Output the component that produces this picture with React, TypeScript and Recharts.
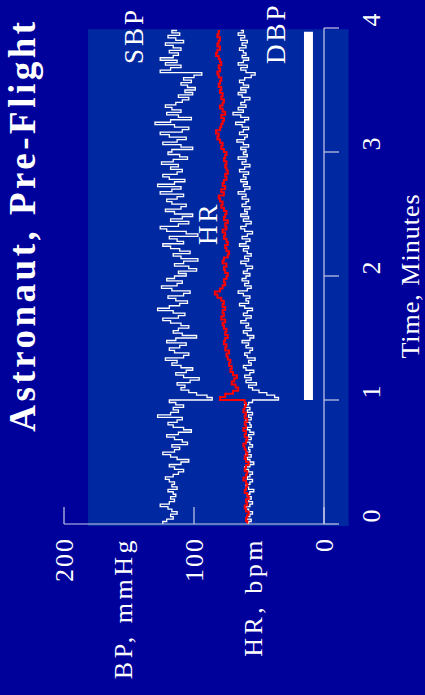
import React from "react";
import {
  LineChart,
  Line,
  XAxis,
  YAxis,
  ReferenceArea,
  ReferenceDot,
} from "recharts";

// beat-to-beat pressures, one entry every BP_STEP minutes
const BP_STEP = 0.02;
const HR_STEP = 0.025;

const sbpValues = [
  124, 121, 116, 118, 113, 117, 120, 126, 119, 115,
  118, 114, 116, 120, 113, 117, 115, 119, 122, 116,
  112, 108, 115, 119, 110, 104, 113, 118, 124, 115,
  111, 117, 105, 109, 115, 121, 112, 102, 108, 116,
  120, 113, 109, 128, 118, 112, 116, 108, 114, 119,
  86, 90, 98, 104, 110, 107, 113, 103, 96, 108,
  114, 106, 101, 110, 117, 113, 122, 108, 104, 115,
  119, 111, 106, 121, 114, 98, 109, 116, 112, 104,
  110, 118, 124, 112, 107, 116, 128, 119, 111, 105,
  114, 120, 108, 103, 117, 125, 113, 109, 121, 115,
  106, 112, 98, 104, 115, 108, 97, 110, 116, 103,
  111, 118, 124, 108, 113, 119, 97, 106, 121, 126,
  112, 104, 118, 109, 101, 115, 122, 110, 106, 117,
  121, 113, 108, 126, 117, 110, 128, 115, 107, 119,
  124, 113, 109, 118, 112, 125, 116, 105, 111, 120,
  117, 101, 110, 124, 113, 106, 119, 126, 109, 104,
  115, 130, 118, 102, 112, 121, 110, 117, 122, 114,
  109, 104, 112, 101, 107, 99, 105, 110, 102, 108,
  100, 94, 126, 118, 110, 122, 113, 126, 116, 112,
  119, 110, 116, 122, 108, 114, 120, 111, 117, 113,
];

const dbpValues = [
  58, 56, 59, 57, 55, 58, 60, 57, 55, 58,
  56, 59, 57, 54, 58, 60, 57, 55, 59, 57,
  55, 58, 61, 57, 54, 57, 59, 56, 60, 57,
  58, 55, 57, 60, 56, 58, 54, 57, 59, 56,
  57, 60, 56, 58, 55, 59, 57, 61, 58, 55,
  35, 38, 44, 50, 55, 58, 52, 60, 56, 61,
  57, 54, 60, 62, 56, 58, 53, 59, 61, 57,
  55, 60, 58, 63, 57, 54, 59, 62, 56, 60,
  58, 64, 60, 56, 62, 59, 55, 61, 65, 58,
  60, 57, 62, 66, 59, 56, 61, 58, 63, 60,
  57, 62, 59, 55, 60, 64, 58, 61, 56, 59,
  62, 58, 65, 60, 57, 63, 59, 55, 61, 64,
  60, 56, 62, 58, 64, 59, 61, 57, 63, 60,
  58, 63, 60, 66, 61, 57, 62, 59, 64, 60,
  62, 58, 65, 61, 57, 63, 60, 66, 59, 62,
  60, 64, 58, 62, 67, 61, 59, 65, 62, 58,
  63, 68, 61, 58, 64, 70, 62, 66, 60, 64,
  61, 57, 63, 66, 60, 64, 58, 62, 65, 61,
  56, 53, 60, 64, 59, 66, 62, 58, 63, 60,
  62, 65, 60, 63, 59, 64, 61, 66, 62, 64,
];

const hrValues = [
  59, 60, 59, 58, 60, 61, 59, 60, 58, 59,
  61, 60, 59, 60, 62, 60, 59, 61, 60, 58,
  60, 61, 59, 60, 61, 62, 60, 59, 61, 60,
  62, 60, 61, 59, 61, 60, 62, 61, 60, 61,
  80, 76, 70, 66, 68, 71, 69, 67, 70, 72,
  71, 73, 72, 74, 75, 73, 76, 75, 77, 76,
  74, 76, 75, 77, 78, 76, 79, 77, 78, 76,
  78, 77, 79, 82, 84, 80, 78, 76, 77, 75,
  74, 76, 77, 75, 78, 77, 74, 73, 75, 76,
  74, 75, 77, 76, 78, 75, 76, 74, 77, 76,
  75, 77, 79, 78, 80, 81, 77, 79, 76, 78,
  77, 75, 76, 74, 75, 76, 75, 77, 76, 75,
  77, 79, 78, 80, 82, 81, 83, 80, 79, 78,
  77, 79, 76, 78, 80, 78, 77, 79, 78, 80,
  79, 81, 80, 79, 81, 82, 80, 81, 79, 80,
  81, 83, 82, 80, 82, 81, 80, 82, 81, 80,
];

const TIME_TICKS = [0, 1, 2, 3, 4];
const PRESSURE_TICKS = [0, 100, 200];

// shaded panel behind the traces and the white standing bar
const panelBox = { t1: -0.016, t2: 3.99, y1: -19, y2: 181.5 };
const standBar = { t1: 1.0, t2: 3.97, y1: 8.5, y2: 15.4 };

const seriesTags = [
  { text: "SBP", t: 3.71, v: 139 },
  { text: "HR", t: 2.25, v: 82 },
  { text: "DBP", t: 3.71, v: 30 },
];

const BG = "#00009a";
const PANEL = "#0028a0";
const AXIS = "#c8cbe8";
const FONT = "'Liberation Serif', 'Times New Roman', serif";

const toPoints = (vals: number[], step: number) =>
  vals.map((v, i) => ({ t: +(i * step).toFixed(3), v }));

const sbp = toPoints(sbpValues, BP_STEP);
const dbp = toPoints(dbpValues, BP_STEP);
const hr = toPoints(hrValues, HR_STEP);

const W = 695;
const H = 425;

const PressureTick = (props: any) => {
  const { x, y, payload } = props;
  return (
    <g>
      <line x1={x} x2={x + 17} y1={y} y2={y} stroke={AXIS} strokeWidth={1.2} />
      <text
        x={x - 13}
        y={y + 9}
        textAnchor="end"
        fill="#fff"
        fontFamily={FONT}
        fontSize={26}
        style={{ letterSpacing: 2 }}
      >
        {payload.value}
      </text>
    </g>
  );
};

const TimeTick = (props: any) => {
  const { x, y, payload } = props;
  return (
    <text
      x={x + 8}
      y={y + 41}
      textAnchor="middle"
      fill="#fff"
      fontFamily={FONT}
      fontSize={26}
    >
      {payload.value}
    </text>
  );
};

const PressureTitle = (props: any) => {
  const { viewBox } = props;
  const right = viewBox.x + viewBox.width - 13;
  const style = { letterSpacing: 3.5 };
  return (
    <g fill="#fff" fontFamily={FONT} fontSize={26}>
      <text x={right} y={viewBox.y + 68} textAnchor="end" style={style}>
        BP, mmHg
      </text>
      <text x={right} y={viewBox.y + 198} textAnchor="end" style={style}>
        HR, bpm
      </text>
    </g>
  );
};

const TimeTitle = (props: any) => {
  const { viewBox } = props;
  return (
    <text
      x={viewBox.x + viewBox.width / 2}
      y={viewBox.y + 95}
      textAnchor="middle"
      fill="#fff"
      fontFamily={FONT}
      fontSize={26}
      style={{ letterSpacing: 1 }}
    >
      Time, Minutes
    </text>
  );
};

const tagLabel = (text: string) => (props: any) => {
  const { viewBox } = props;
  return (
    <text
      x={viewBox.x}
      y={viewBox.y}
      fill="#fff"
      fontFamily={FONT}
      fontSize={27}
      style={{ letterSpacing: 3 }}
    >
      {text}
    </text>
  );
};

export default function App() {
  return (
    <div
      style={{
        position: "fixed",
        left: 0,
        top: 0,
        width: H,
        height: W,
        background: BG,
        overflow: "hidden",
      }}
    >
      <div
        style={{
          position: "absolute",
          left: 0,
          top: 0,
          width: W,
          height: H,
          transformOrigin: "0 0",
          transform: `translateY(${W}px) rotate(-90deg)`,
        }}
      >
        <div
          style={{
            position: "absolute",
            left: 0,
            top: 4,
            width: W,
            paddingLeft: 245,
            boxSizing: "border-box",
            textAlign: "center",
            color: "#fff",
            fontFamily: FONT,
            fontWeight: "bold",
            fontSize: 37,
            lineHeight: "37px",
            letterSpacing: 3.5,
            whiteSpace: "nowrap",
          }}
        >
          Astronaut, Pre-Flight
        </div>
        <LineChart
          width={W}
          height={H}
          margin={{ top: 64, right: 28, left: 111, bottom: 41 }}
        >
          <ReferenceArea
            x1={panelBox.t1}
            x2={panelBox.t2}
            y1={panelBox.y1}
            y2={panelBox.y2}
            ifOverflow="visible"
            fill={PANEL}
            fillOpacity={1}
            stroke="none"
          />
          <XAxis
            type="number"
            dataKey="t"
            domain={[0, 4]}
            ticks={TIME_TICKS}
            interval={0}
            height={60}
            tickSize={15}
            tickMargin={0}
            axisLine={{ stroke: AXIS, strokeWidth: 1.2 }}
            tickLine={{ stroke: AXIS, strokeWidth: 1.2 }}
            tick={TimeTick}
            label={<TimeTitle />}
          />
          <YAxis
            type="number"
            domain={[0, 200]}
            ticks={PRESSURE_TICKS}
            interval={0}
            width={60}
            tickSize={0}
            tickMargin={0}
            tickLine={false}
            axisLine={{ stroke: AXIS, strokeWidth: 1.2 }}
            tick={PressureTick}
            label={<PressureTitle />}
          />
          <ReferenceArea
            x1={standBar.t1}
            x2={standBar.t2}
            y1={standBar.y1}
            y2={standBar.y2}
            fill="#ffffff"
            fillOpacity={1}
            stroke="none"
          />
          <Line
            data={sbp}
            dataKey="v"
            type="stepAfter"
            stroke="#ffffff"
            strokeWidth={1.3}
            dot={false}
            isAnimationActive={false}
          />
          <Line
            data={dbp}
            dataKey="v"
            type="stepAfter"
            stroke="#ffffff"
            strokeWidth={1.3}
            dot={false}
            isAnimationActive={false}
          />
          <Line
            data={hr}
            dataKey="v"
            type="stepAfter"
            stroke="#ff0000"
            strokeWidth={2}
            dot={false}
            isAnimationActive={false}
          />
          {seriesTags.map((s) => (
            <ReferenceDot
              key={s.text}
              x={s.t}
              y={s.v}
              r={0.01}
              fill="none"
              stroke="none"
              ifOverflow="visible"
              label={tagLabel(s.text)}
            />
          ))}
        </LineChart>
      </div>
    </div>
  );
}
